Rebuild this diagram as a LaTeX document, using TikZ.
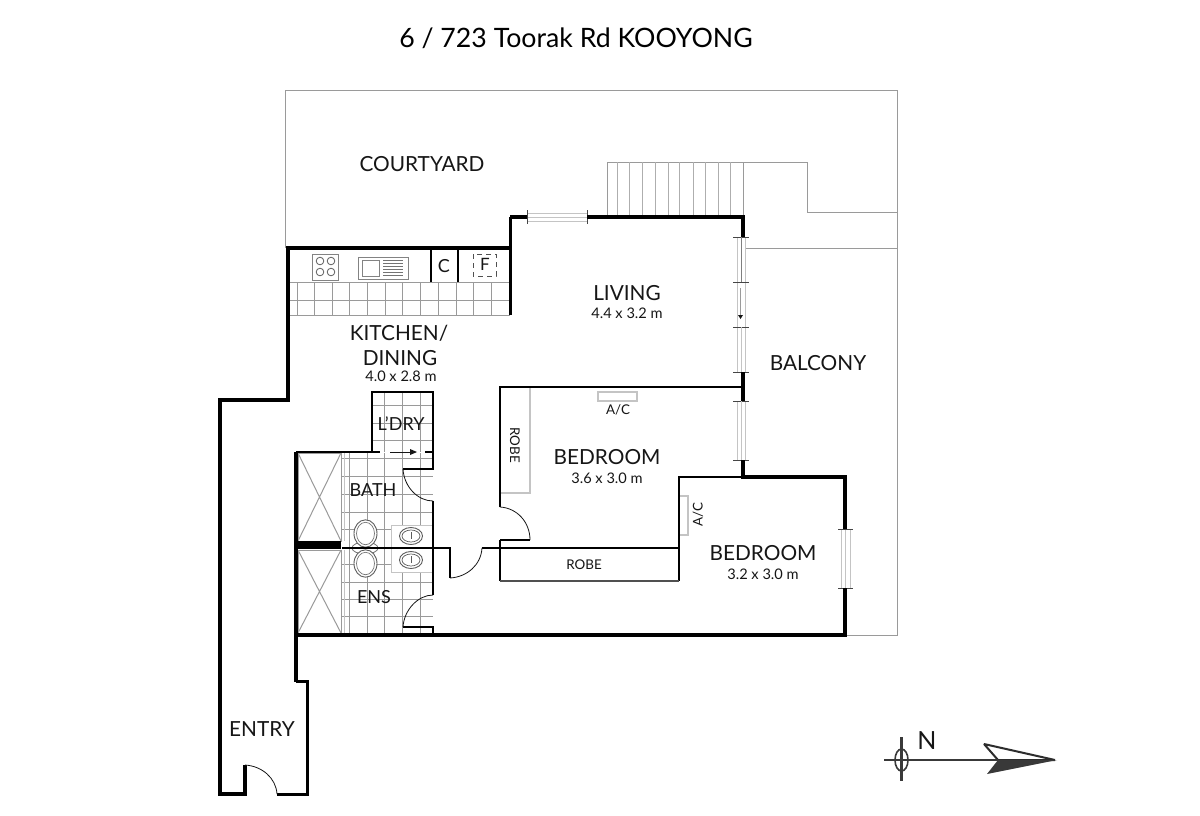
\documentclass[tikz,border=0pt]{standalone}
\usepackage{fontspec}
\setmainfont{Lato}[Scale=1]
\usetikzlibrary{arrows.meta}
\definecolor{ink}{HTML}{161616}
\definecolor{thin}{HTML}{9A9A9A}
\definecolor{pale}{HTML}{C4C4C4}
\tikzset{
 x=1pt,y=-1pt,
 wallA/.style={draw=black,line width=4.2pt,line join=miter},
 wallB/.style={draw=black,line width=2.4pt,line join=miter},
 site/.style={draw=thin,line width=1pt},
 tile/.style={draw=thin,line width=0.9pt},
 fix/.style={draw=thin!85!black,line width=0.9pt,fill=white},
 swing/.style={draw=ink,line width=0.8pt},
 glaze/.style={draw=pale,line width=1pt,fill=white},
 tick/.style={draw=ink!80,line width=1pt},
 room/.style={text=ink,font=\fontsize{20.8}{22}\selectfont,inner sep=0pt},
 size/.style={text=ink,font=\fontsize{14.6}{16}\selectfont,inner sep=0pt},
 small/.style={text=ink,font=\fontsize{13.4}{15}\selectfont,inner sep=0pt},
}
\begin{document}
\begin{tikzpicture}
\useasboundingbox (0,0) rectangle (1200,815);
\fill[white] (0,0) rectangle (1200,815);
% site
\draw[site] (285,248) -- (285,90) -- (897,90) -- (897,635) -- (846,635);
\draw[site] (745,248) -- (897,248);
\draw[site] (607,215) -- (607,162) -- (807,162) -- (807,212) -- (897,212);
\draw[site] (743,162) -- (743,215);
\foreach \x in {617,629,642,655,668,679,693,705,718,730} \draw[site,draw=thin!80] (\x,162) -- (\x,215);
% kitchen tiles
\foreach \x in {297,314,332,349,367,385,402,420,438,456,473,491} \draw[tile] (\x,282) -- (\x,315);
\draw[tile] (288,282) -- (510,282) (288,300) -- (510,300) (288,315) -- (510,315);
% hob, sink, fridge
\draw[fix] (312,254) rectangle (338,280);
\foreach \a/\b in {320/261,331/261,320/272,331/272} \draw[draw=ink!70,line width=0.8pt] (\a,\b) circle[radius=3.8];
\draw[fix] (358,257) rectangle (408,279);
\draw[fix] (362,260) rectangle (379,276);
\foreach \b in {260,263,266,269,272,275} \draw[draw=ink!60,line width=0.7pt] (383,\b) -- (403,\b);
\draw[draw=ink!75,line width=1pt,dash pattern=on 5pt off 4pt] (473,254) rectangle (496,276);
% bath and laundry tiles
\foreach \x in {349,367,384,402,420} \draw[tile] (\x,453) -- (\x,633);
\foreach \x in {384,402,420} \draw[tile] (\x,392) -- (\x,452);
\foreach \y in {405,423,440} \draw[tile] (372,\y) -- (433,\y);
\foreach \y in {458,476,494,512,529,564,582,599,616} \draw[tile] (342,\y) -- (433,\y);
% showers
\foreach \t/\b in {453/541,550/633}{
  \draw[draw=thin,line width=1pt] (298,\t) rectangle (341,\b);
  \draw[draw=thin,line width=1pt] (298,\t) -- (341,\b) (341,\t) -- (298,\b);
  \draw[draw=pale,line width=1pt] (344,\t) -- (344,\b);
}
\fill[black] (296,541) rectangle (341,549);
% vanity
\draw[fix,draw=pale] (391,525) rectangle (433,572);
\foreach \y in {536,560}{
  \draw[draw=ink!70,line width=0.9pt] (411,\y) ellipse[x radius=11.5,y radius=8.5];
  \draw[draw=ink!70,line width=0.7pt] (411,\y) ellipse[x radius=9,y radius=6];
  \draw[draw=ink!70,line width=0.9pt] (411,\y-4) -- (411,\y+3);
}
% toilets
\draw[draw=ink!60,line width=0.8pt,fill=white] (365,548) ellipse[x radius=13,y radius=6];
\foreach \y in {533.5,563.5}{
  \draw[draw=ink!70,line width=0.9pt,fill=white] (365.5,\y) ellipse[x radius=11.5,y radius=13.7];
  \draw[draw=ink!60,line width=0.7pt] (365.5,\y) ellipse[x radius=9,y radius=11.2];
}
% closets and A/C
\draw[fix,draw=pale,line width=1.1pt] (500,387) rectangle (530,493);
\draw[fix,draw=pale,line width=1.1pt] (598,392) rectangle (637,401);
\draw[fix,draw=pale,line width=1.1pt] (679,496) rectangle (688,535);
% glazing
\foreach \t/\b in {237/282,282/327,327/372,401/460}{
  \draw[glaze] (737,\t) rectangle (745,\b);
  \draw[tick] (733,\t) -- (749,\t) (733,\b) -- (749,\b);
}
\draw[draw=ink!55,line width=1pt] (741,237) -- (741,282);
\draw[draw=pale,line width=1pt] (741,401) -- (741,460) (741,327) -- (741,372);
\draw[draw=thin,line width=0.9pt] (740,288) -- (740,316);
\fill[ink] (738,315) -- (743,315) -- (740.5,319) -- cycle;
\draw[glaze] (841,529) rectangle (850,588);
\draw[draw=pale,line width=1pt] (845.5,529) -- (845.5,588);
\draw[tick] (838,529) -- (853,529) (838,588) -- (853,588);
\draw[glaze] (527,213) rectangle (587,221);
\draw[draw=pale,line width=1pt] (527,217) -- (587,217);
\draw[tick] (527,210) -- (527,224) (587,210) -- (587,224);
% exterior walls
\draw[wallA] (527,217) -- (510,217);
\draw[wallA] (587,217) -- (743,217) -- (743,237);
\draw[wallA] (743,372) -- (743,401);
\draw[wallA] (743,460) -- (743,477) -- (845,477) -- (845,529);
\draw[wallA] (845,588) -- (845,635) -- (296,635) -- (296,682);
\draw[wallB,line width=3pt] (296,681) -- (307,681) -- (307,794) -- (277,794);
\draw[wallA,line width=3.6pt] (245,765) -- (245,794) -- (220,794) -- (220,400) -- (288,400) -- (288,248) -- (510,248);
\draw[wallA,line width=3pt] (510,217) -- (510,315);
\draw[wallA,line width=3.4pt] (296,452) -- (296,635);
% interior walls
\draw[wallB] (500,507) -- (500,387) -- (743,387);
\draw[wallB] (500,540) -- (500,581);
\draw[wallB] (500,540) -- (530,540);
\draw[wallB] (482,548) -- (679,548);
\draw[wallB] (679,581) -- (679,477) -- (743,477);
\draw[draw=ink!75,line width=1.1pt] (500,581) -- (679,581);
\draw[wallB] (342,548) -- (450,548) -- (450,578);
\draw[wallB] (296,452) -- (380,452);
\draw[wallB] (372,452) -- (372,392) -- (433,392) -- (433,469) -- (403,469);
\draw[wallB] (433,501) -- (433,595);
\draw[wallB] (403,627) -- (433,627) -- (433,635);
\draw[wallB] (425,452) -- (433,452);
\draw[wallB,line width=1.8pt] (431,248) -- (431,282) (458,248) -- (458,282);
% sliding door
\draw[draw=ink,line width=1pt] (390,452) -- (415,452);
\fill[ink] (410,449) -- (417,452) -- (410,455) -- cycle;
% door swings
\draw[swing] (403,469) .. controls (404,487) and (418,501) .. (433,501);
\draw[swing] (403,627) .. controls (404,610) and (418,595) .. (433,595);
\draw[swing] (450,578) .. controls (467,577) and (481,565) .. (482,548);
\draw[swing] (500,507) .. controls (517,508) and (530,522) .. (530,540);
\draw[swing] (245,765) .. controls (262,766) and (276,778) .. (277,794);
% north arrow
\fill[draw=ink!90,line width=2pt,fill=white,line join=bevel] (984,744) -- (1055,760) -- (998,760) -- cycle;
\fill[ink!85] (987,774) -- (998,760) -- (1057,760) -- cycle;
\draw[ink!85,line width=2.2pt] (884,760) -- (998,760);
\draw[ink!85,line width=2.2pt] (901.5,737) -- (901.5,781);
\draw[ink!85,line width=1.6pt] (901.5,760) ellipse[x radius=6.5,y radius=11];
% labels
\node[inner sep=0pt,text=black,font=\fontsize{26.7}{28}\selectfont] (title) at (576,38) {6 / 723 Toorak Rd KOOYONG};
\node[room] (courtyard) at (422,164) {COURTYARD};
\node[room] (living) at (627,293) {LIVING};
\node[size] (livingsize) at (627,313) {4.4 x 3.2 m};
\node[room] (kitchen) at (399,333) {KITCHEN/};
\node[room] (dining) at (400,358) {DINING};
\node[size] (kitchensize) at (401,376) {4.0 x 2.8 m};
\node[room,font=\fontsize{18}{20}\selectfont] (cupboard) at (444,266) {C};
\node[room,font=\fontsize{17}{20}\selectfont] (fridge) at (485,264) {F};
\node[room] (balcony) at (818,363) {BALCONY};
\node[room,font=\fontsize{18}{20}\selectfont] (laundry) at (401,424) {L'DRY};
\node[room,font=\fontsize{18}{20}\selectfont] (bath) at (373,490) {BATH};
\node[room,font=\fontsize{18}{20}\selectfont] (ens) at (374,597) {ENS};
\node[room] (bed1) at (607,457) {BEDROOM};
\node[size] (bed1size) at (607,478) {3.6 x 3.0 m};
\node[room] (bed2) at (763,553) {BEDROOM};
\node[size] (bed2size) at (763,574) {3.2 x 3.0 m};
\node[small] (robe1) at (515,445) [rotate=-90] {ROBE};
\node[small] (robe2) at (584,565) {ROBE};
\node[small] (ac1) at (618,410) {A/C};
\node[small] (ac2) at (698,515) [rotate=90] {A/C};
\node[room] (entry) at (262,729) {ENTRY};
\node[inner sep=0pt,text=ink,font=\fontsize{25}{27}\selectfont] (north) at (927,741) {N};
\end{tikzpicture}
\end{document}
